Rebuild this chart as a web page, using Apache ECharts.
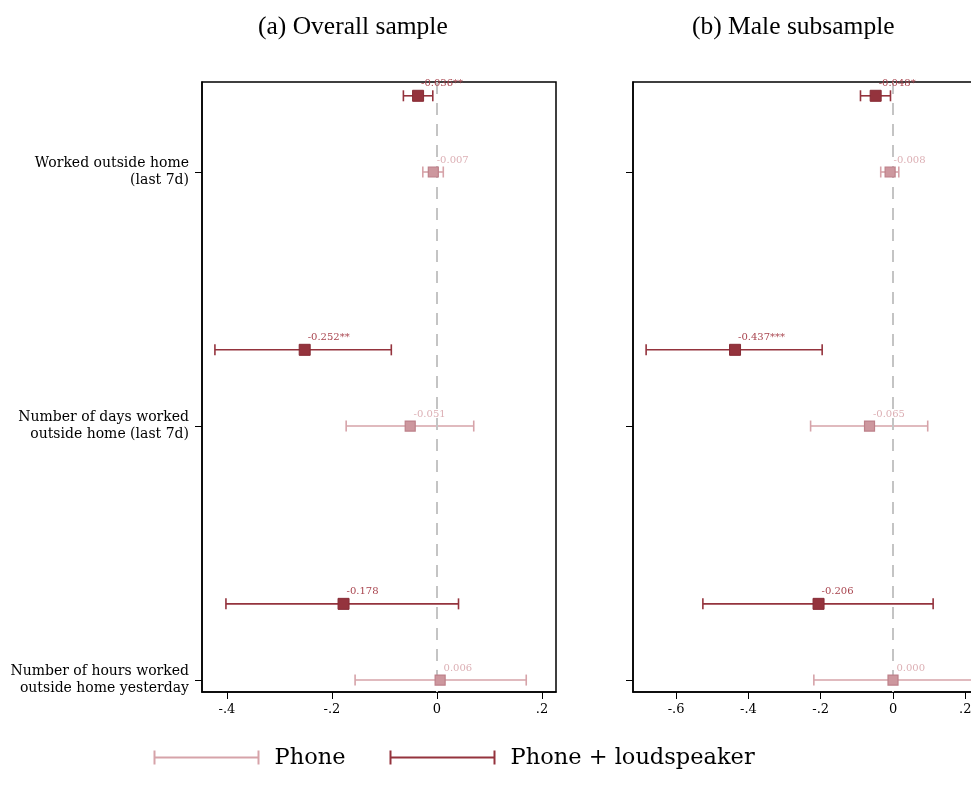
<!DOCTYPE html>
<html>
<head>
<meta charset="utf-8">
<script src="https://cdn.jsdelivr.net/npm/echarts@6/dist/echarts.min.js"></script>
<style>html,body{margin:0;padding:0;background:#fff}#c{width:971px;height:801px}</style>
</head>
<body>
<div id="c"></div>
<script>
// ---------- data ----------
const categories = ['Worked outside home\n(last 7d)', 'Number of days worked\noutside home (last 7d)', 'Number of hours worked\noutside home yesterday'];
const panelTitles = ['(a) Overall sample', '(b) Male subsample'];
const seriesNames = ['Phone', 'Phone + loudspeaker'];

// Panel (a) Overall sample
const aPhoneCoef = [-0.007, -0.051, 0.006];
const aPhoneLo   = [-0.027, -0.173, -0.156];
const aPhoneHi   = [0.012, 0.070, 0.170];
const aPhoneLbl  = ['-0.007', '-0.051', '0.006'];
const aLoudCoef  = [-0.036, -0.252, -0.178];
const aLoudLo    = [-0.064, -0.423, -0.402];
const aLoudHi    = [-0.008, -0.087, 0.041];
const aLoudLbl   = ['-0.036**', '-0.252**', '-0.178'];

// Panel (b) Male subsample
const bPhoneCoef = [-0.008, -0.065, 0.000];
const bPhoneLo   = [-0.034, -0.228, -0.219];
const bPhoneHi   = [0.016, 0.096, 0.220];
const bPhoneLbl  = ['-0.008', '-0.065', '0.000'];
const bLoudCoef  = [-0.048, -0.437, -0.206];
const bLoudLo    = [-0.090, -0.683, -0.526];
const bLoudHi    = [-0.007, -0.196, 0.111];
const bLoudLbl   = ['-0.048*', '-0.437***', '-0.206'];

const aTicks = [-0.4, -0.2, 0, 0.2];
const bTicks = [-0.6, -0.4, -0.2, 0, 0.2];

// ---------- style ----------
const LOUD = '#94333d';
const PHONE = '#d6a3a9';
const SERIF = '"DejaVu Serif", serif';
const TITLEF = '"Liberation Serif", "Times New Roman", serif';
const LOUD_SHIFT = -0.3;

const chart = echarts.init(document.getElementById('c'), null, {renderer: 'canvas'});

function fmtTick(v) {
  if (Math.abs(v) < 1e-9) return '0';
  let s = (Math.round(v * 10) / 10).toFixed(1);
  return s.replace('0.', '.');
}

function errRender(color) {
  return function (params, api) {
    const lo = api.value(0), hi = api.value(1), y = api.value(2);
    const p1 = api.coord([lo, y]), p2 = api.coord([hi, y]);
    const h = 5.5;
    const st = {stroke: color, lineWidth: 1.6};
    return {
      type: 'group',
      children: [
        {type: 'line', shape: {x1: p1[0], y1: p1[1], x2: p2[0], y2: p2[1]}, style: st},
        {type: 'line', shape: {x1: p1[0], y1: p1[1] - h, x2: p1[0], y2: p1[1] + h}, style: st},
        {type: 'line', shape: {x1: p2[0], y1: p2[1] - h, x2: p2[0], y2: p2[1] + h}, style: st}
      ]
    };
  };
}

const grids = [], xAxes = [], yAxes = [], series = [];
const panels = [
  {min: -0.4476, max: 0.2267, ticks: aTicks, left: 202, showY: true,
   pc: aPhoneCoef, pl: aPhoneLo, ph: aPhoneHi, plb: aPhoneLbl,
   lc: aLoudCoef, ll: aLoudLo, lh: aLoudHi, llb: aLoudLbl},
  {min: -0.7193, max: 0.2600, ticks: bTicks, left: 633, showY: false,
   pc: bPhoneCoef, pl: bPhoneLo, ph: bPhoneHi, plb: bPhoneLbl,
   lc: bLoudCoef, ll: bLoudLo, lh: bLoudHi, llb: bLoudLbl}
];

panels.forEach((p, i) => {
  grids.push({left: p.left, width: 354, top: 82, height: 610, outerBoundsMode: 'none', containLabel: false,
    show: true, borderColor: '#000', borderWidth: 1.5, backgroundColor: '#fff'});
  xAxes.push({
    type: 'value', gridIndex: i, min: p.min, max: p.max,
    axisLine: {show: true, onZero: false, lineStyle: {color: '#000', width: 1.5}},
    axisTick: {show: true, length: 7, customValues: p.ticks, lineStyle: {color: '#000', width: 1}},
    axisLabel: {customValues: p.ticks, formatter: fmtTick, color: '#000', fontFamily: SERIF, fontSize: 13, margin: 11},
    splitLine: {show: false}
  });
  yAxes.push({
    type: 'value', gridIndex: i, inverse: true, min: 0.6457, max: 3.047,
    axisLine: {show: true, onZero: false, lineStyle: {color: '#000', width: 1.5}},
    axisTick: {show: true, length: 7, customValues: [1, 2, 3], lineStyle: {color: '#000', width: 1}},
    axisLabel: {show: p.showY, customValues: [1, 2, 3], formatter: v => categories[Math.round(v) - 1],
      color: '#000', fontFamily: SERIF, fontSize: 14, lineHeight: 17, margin: 13, align: 'right'},
    splitLine: {show: false}
  });

  const phoneBars = p.pc.map((c, k) => [p.pl[k], p.ph[k], k + 1]);
  const loudBars = p.lc.map((c, k) => [p.ll[k], p.lh[k], k + 1 + LOUD_SHIFT]);
  const phonePts = p.pc.map((c, k) => ({value: [c, k + 1], label: {formatter: p.plb[k]}}));
  const loudPts = p.lc.map((c, k) => ({value: [c, k + 1 + LOUD_SHIFT], label: {formatter: p.llb[k]}}));

  series.push({
    type: 'custom', name: seriesNames[0], xAxisIndex: i, yAxisIndex: i, renderItem: errRender(PHONE),
    data: phoneBars, encode: {x: [0, 1], y: 2}, z: 3, silent: true,
    markLine: {silent: true, symbol: 'none', label: {show: false},
      lineStyle: {color: '#c4c4c4', width: 2, type: [12, 9]}, data: [{xAxis: 0}]}
  });
  series.push({
    type: 'custom', name: seriesNames[1], xAxisIndex: i, yAxisIndex: i, renderItem: errRender(LOUD),
    data: loudBars, encode: {x: [0, 1], y: 2}, z: 3, silent: true
  });
  series.push({
    type: 'scatter', xAxisIndex: i, yAxisIndex: i, symbol: 'rect', symbolSize: 10, z: 5, silent: true,
    itemStyle: {color: '#cd979e', borderColor: '#bd8089', borderWidth: 1.2, opacity: 1},
    label: {show: true, position: [9, -6], align: 'left', verticalAlign: 'middle', color: '#dcafb4', fontFamily: SERIF, fontSize: 10},
    data: phonePts
  });
  series.push({
    type: 'scatter', xAxisIndex: i, yAxisIndex: i, symbol: 'rect', symbolSize: 11, z: 6, silent: true,
    itemStyle: {color: LOUD, borderColor: '#862a34', borderWidth: 1, opacity: 1},
    label: {show: true, position: [9, -6], align: 'left', verticalAlign: 'middle', color: '#a8434d', fontFamily: SERIF, fontSize: 10},
    data: loudPts
  });
});

function legendItem(x, y, color, text) {
  return {
    type: 'group', left: x, top: y - 7,
    children: [
      {type: 'line', shape: {x1: 0, y1: 7, x2: 104, y2: 7}, style: {stroke: color, lineWidth: 2}},
      {type: 'line', shape: {x1: 0, y1: 0, x2: 0, y2: 14}, style: {stroke: color, lineWidth: 2}},
      {type: 'line', shape: {x1: 104, y1: 0, x2: 104, y2: 14}, style: {stroke: color, lineWidth: 2}},
      {type: 'text', x: 120, y: 8, style: {text: text, fill: '#000', font: '22.5px ' + SERIF, textVerticalAlign: 'middle'}}
    ]
  };
}

chart.setOption({
  animation: false,
  backgroundColor: '#fff',
  grid: grids,
  xAxis: xAxes,
  yAxis: yAxes,
  series: series,
  graphic: [
    {type: 'text', left: 258, top: 14, style: {text: panelTitles[0], fill: '#000', font: '25.5px ' + TITLEF}},
    {type: 'text', left: 692, top: 14, style: {text: panelTitles[1], fill: '#000', font: '25.5px ' + TITLEF}},
    legendItem(152, 754, PHONE, seriesNames[0]),
    legendItem(388, 754, LOUD, seriesNames[1])
  ]
});
</script>
</body>
</html>
